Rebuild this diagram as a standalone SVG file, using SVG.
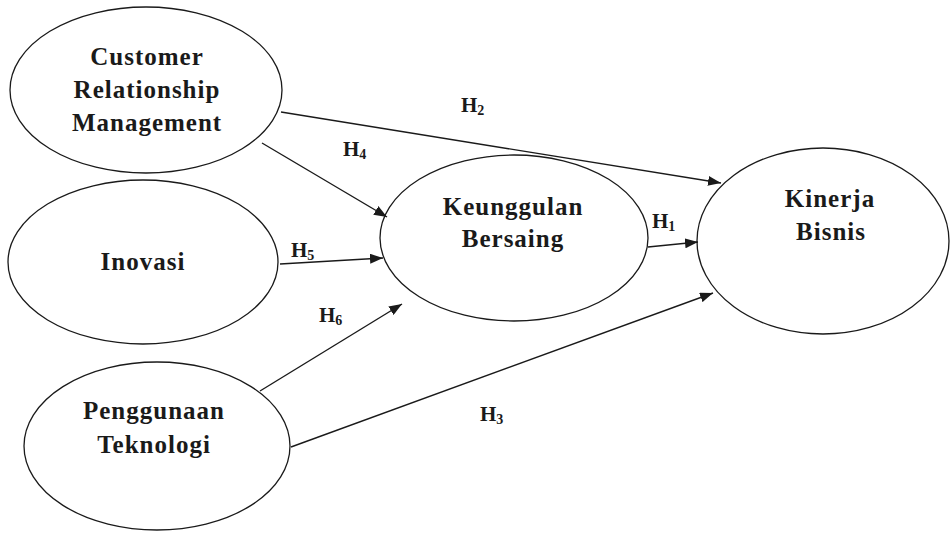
<svg xmlns="http://www.w3.org/2000/svg" width="951" height="533" viewBox="0 0 951 533">
<defs>
<style>
.node ellipse{fill:#fff;stroke:#1a1a1a;stroke-width:1.3}
.lbl{font-family:"Liberation Serif","Times New Roman",serif;font-weight:bold;font-size:25px;letter-spacing:1px;fill:#1a1a1a;text-anchor:middle}
.h{font-family:"Liberation Serif","Times New Roman",serif;font-weight:bold;font-size:21px;fill:#1a1a1a}
.sub{font-size:14px}
.conn line{stroke:#1a1a1a;stroke-width:1.4;fill:none;marker-end:url(#arr)}
</style>
<marker id="arr" markerUnits="userSpaceOnUse" markerWidth="14" markerHeight="10" refX="13" refY="5" orient="auto">
<path d="M0,0 L13,5 L0,10 Z" fill="#1a1a1a"/>
</marker>
</defs>
<rect width="951" height="533" fill="#fff"/>
<g id="n-crm" class="node">
<ellipse cx="146" cy="90" rx="136" ry="83"/>
<text class="lbl" x="147" y="65">Customer</text>
<text class="lbl" x="147" y="98">Relationship</text>
<text class="lbl" x="147" y="131">Management</text>
</g>
<g id="n-inovasi" class="node">
<ellipse cx="143" cy="262" rx="135" ry="82"/>
<text class="lbl" x="143" y="270">Inovasi</text>
</g>
<g id="n-teknologi" class="node">
<ellipse cx="157" cy="446" rx="133" ry="84"/>
<text class="lbl" x="154" y="419">Penggunaan</text>
<text class="lbl" x="154" y="453">Teknologi</text>
</g>
<g id="n-keunggulan" class="node">
<ellipse cx="514" cy="238" rx="134" ry="83"/>
<text class="lbl" x="513" y="215">Keunggulan</text>
<text class="lbl" x="513" y="247">Bersaing</text>
</g>
<g id="n-kinerja" class="node">
<ellipse cx="823" cy="241" rx="126" ry="93"/>
<text class="lbl" x="830" y="207">Kinerja</text>
<text class="lbl" x="831" y="240">Bisnis</text>
</g>
<g id="connectors" class="conn">
<line x1="281" y1="112" x2="721" y2="183"/>
<line x1="262" y1="143" x2="387" y2="217"/>
<line x1="280" y1="264" x2="383" y2="258"/>
<line x1="648" y1="247" x2="698" y2="242"/>
<line x1="260" y1="391" x2="402" y2="304"/>
<line x1="291" y1="447" x2="713" y2="293"/>
</g>
<g id="labels">
<text class="h" x="461" y="112">H<tspan class="sub" dy="3">2</tspan></text>
<text class="h" x="343" y="156">H<tspan class="sub" dy="3">4</tspan></text>
<text class="h" x="291" y="257">H<tspan class="sub" dy="3">5</tspan></text>
<text class="h" x="652" y="228">H<tspan class="sub" dy="3">1</tspan></text>
<text class="h" x="319" y="322">H<tspan class="sub" dy="3">6</tspan></text>
<text class="h" x="480" y="421">H<tspan class="sub" dy="3">3</tspan></text>
</g>
</svg>
